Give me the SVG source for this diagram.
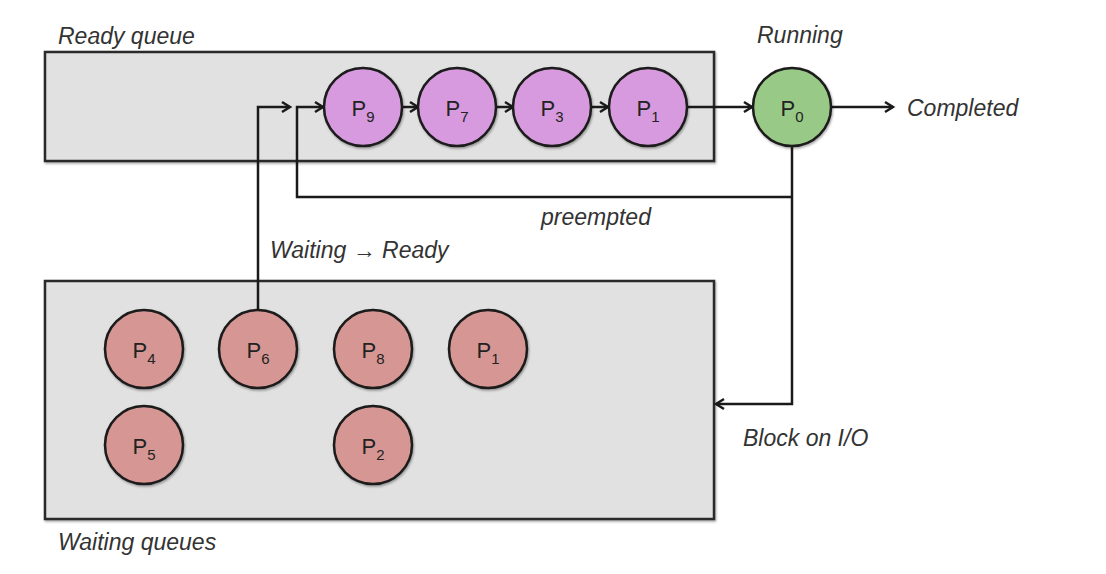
<svg xmlns="http://www.w3.org/2000/svg" width="1106" height="574" viewBox="0 0 1106 574">
<defs>
<filter id="sh" x="-10%" y="-10%" width="130%" height="130%">
<feDropShadow dx="1" dy="1.5" stdDeviation="1.2" flood-color="#000" flood-opacity="0.35"/>
</filter>
<marker id="arr" markerUnits="userSpaceOnUse" markerWidth="14" markerHeight="14" viewBox="0 0 14 14" refX="11" refY="7" orient="auto">
<path d="M3,2 L11,7 L3,12" fill="none" stroke="#1a1a1a" stroke-width="2.5" stroke-linejoin="miter"/>
</marker>
<style>
.box{fill:#e1e1e1;stroke:#2a2a2a;stroke-width:2.5;filter:url(#sh)}
.c{stroke:#1a1a1a;stroke-width:2.5;filter:url(#sh)}
.rq{fill:#d79ade}
.run{fill:#99c986}
.wq{fill:#d69693}
.p{font-family:"Liberation Sans",Arial,sans-serif;font-size:22px;fill:#222;text-anchor:middle}
.sub{font-size:15px}
.lbl{font-family:"Liberation Sans",Arial,sans-serif;font-style:italic;font-size:23px;fill:#333}
.ln{fill:none;stroke:#1a1a1a;stroke-width:2.5}
</style>
</defs>

<g id="ready-queue">
<rect class="box" x="45" y="52" width="669" height="109"/>
<text class="lbl" x="58" y="44">Ready queue</text>
</g>
<g id="waiting-queues">
<rect class="box" x="45" y="281" width="669" height="238"/>
<text class="lbl" x="58" y="550">Waiting queues</text>
</g>

<g id="connectors">
<path class="ln" d="M258,310 V107 H290" marker-end="url(#arr)"/>
<path class="ln" d="M792,197 H297 V107 H323" marker-end="url(#arr)"/>
<path class="ln" d="M402,107 H418" marker-end="url(#arr)"/>
<path class="ln" d="M497,107 H513" marker-end="url(#arr)"/>
<path class="ln" d="M592,107 H608" marker-end="url(#arr)"/>
<path class="ln" d="M687,107 H752" marker-end="url(#arr)"/>
<path class="ln" d="M832,107 H893" marker-end="url(#arr)"/>
<path class="ln" d="M792,146 V404 H716" marker-end="url(#arr)"/>
<text class="lbl" x="757" y="43">Running</text>
<text class="lbl" x="907" y="116">Completed</text>
<text class="lbl" x="541" y="225">preempted</text>
<text class="lbl" x="270" y="258">Waiting → Ready</text>
<text class="lbl" x="743" y="446">Block on I/O</text>
</g>

<g id="P9"><circle class="c rq" cx="363" cy="107" r="39"/><text class="p" x="363" y="116">P<tspan class="sub" dy="6">9</tspan></text></g>
<g id="P7"><circle class="c rq" cx="457" cy="107" r="39"/><text class="p" x="457" y="116">P<tspan class="sub" dy="6">7</tspan></text></g>
<g id="P3"><circle class="c rq" cx="552" cy="107" r="39"/><text class="p" x="552" y="116">P<tspan class="sub" dy="6">3</tspan></text></g>
<g id="P1-ready"><circle class="c rq" cx="648" cy="107" r="39"/><text class="p" x="648" y="116">P<tspan class="sub" dy="6">1</tspan></text></g>
<g id="P0"><circle class="c run" cx="792" cy="107" r="39"/><text class="p" x="792" y="116">P<tspan class="sub" dy="6">0</tspan></text></g>

<g id="P4"><circle class="c wq" cx="144" cy="349" r="39"/><text class="p" x="144" y="358">P<tspan class="sub" dy="6">4</tspan></text></g>
<g id="P6"><circle class="c wq" cx="258" cy="349" r="39"/><text class="p" x="258" y="358">P<tspan class="sub" dy="6">6</tspan></text></g>
<g id="P8"><circle class="c wq" cx="373" cy="349" r="39"/><text class="p" x="373" y="358">P<tspan class="sub" dy="6">8</tspan></text></g>
<g id="P1-waiting"><circle class="c wq" cx="488" cy="349" r="39"/><text class="p" x="488" y="358">P<tspan class="sub" dy="6">1</tspan></text></g>
<g id="P5"><circle class="c wq" cx="144" cy="445" r="39"/><text class="p" x="144" y="454">P<tspan class="sub" dy="6">5</tspan></text></g>
<g id="P2"><circle class="c wq" cx="373" cy="445" r="39"/><text class="p" x="373" y="454">P<tspan class="sub" dy="6">2</tspan></text></g>
</svg>
